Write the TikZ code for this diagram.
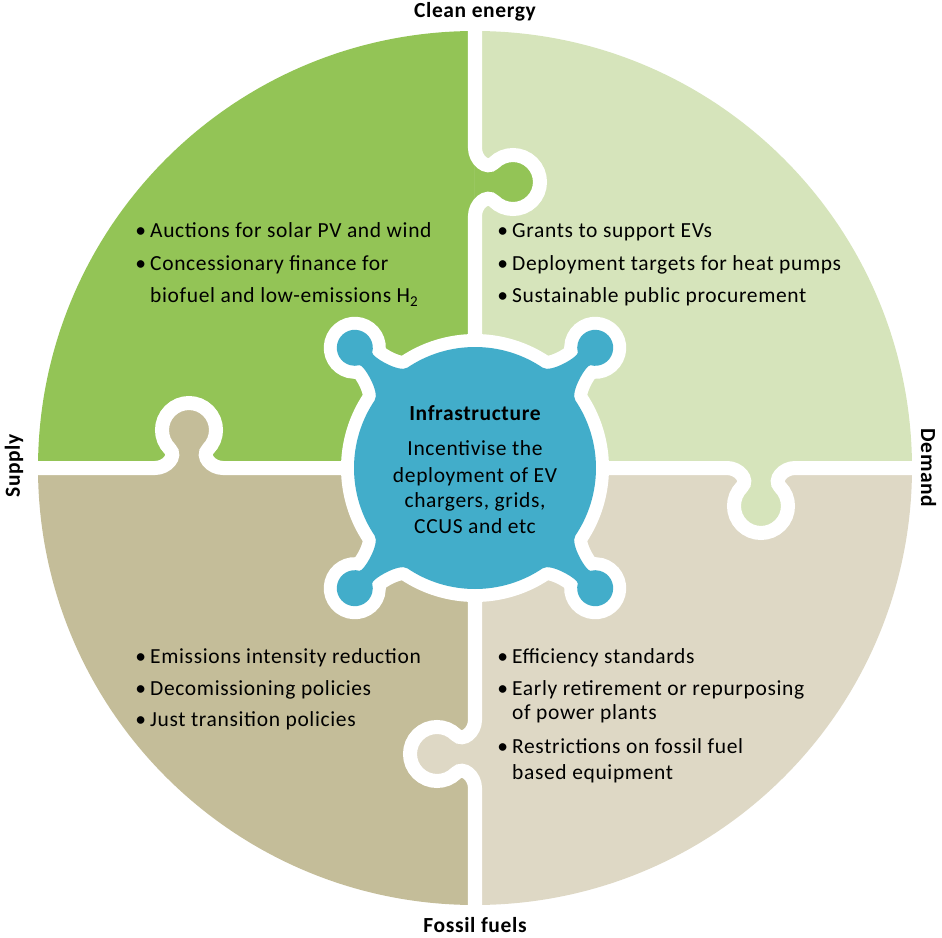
\documentclass[tikz,border=0pt]{standalone}
\usepackage{fontspec}
\setmainfont{Carlito}[LetterSpace=3]
\usetikzlibrary{positioning}

\definecolor{cleansupply}{HTML}{93C456}
\definecolor{cleandemand}{HTML}{D6E4BB}
\definecolor{fossilsupply}{HTML}{C4BD99}
\definecolor{fossildemand}{HTML}{DED8C5}
\definecolor{hubblue}{HTML}{42ADCA}

\tikzset{
  cut/.style={draw=white, line width=14pt},
  axislabel/.style={font=\fontsize{21.5}{25}\selectfont\bfseries},
  itemline/.style={anchor=base west, inner sep=0pt, font=\fontsize{21.5}{25}\selectfont},
  hubline/.style={anchor=base, inner sep=0pt, font=\fontsize{21.5}{25}\selectfont},
}
\newcommand{\bul}{\llap{\textbullet\hspace{4pt}}}

\begin{document}
\begin{tikzpicture}[x=1pt, y=1pt]
\useasboundingbox (-475,-469) rectangle (467,468);

% four quarters
\fill[cleansupply] (0,0) -- (180:437pt) arc[start angle=180, end angle=90, radius=437pt] -- cycle;
\fill[cleandemand] (0,0) -- (90:437pt) arc[start angle=90, end angle=0, radius=437pt] -- cycle;
\fill[fossildemand] (0,0) -- (0:437pt) arc[start angle=0, end angle=-90, radius=437pt] -- cycle;
\fill[fossilsupply] (0,0) -- (-90:437pt) arc[start angle=-90, end angle=-180, radius=437pt] -- cycle;

% puzzle tabs and cuts
\foreach \ang/\own in {90/cleansupply, 180/fossilsupply, 0/cleandemand, 270/fossildemand}{
  \begin{scope}[rotate=\ang, yscale=-1]
    \fill[\own] (252,0) .. controls (264,0) and (274,11.8) .. (266.9,18.9)
      arc[start angle=225, end angle=-45, radius=27pt]
      .. controls (298,11.8) and (308,0) .. (320,0) -- cycle;
    \draw[cut] (0,0) -- (252,0) .. controls (264,0) and (274,11.8) .. (266.9,18.9)
      arc[start angle=225, end angle=-45, radius=27pt]
      .. controls (298,11.8) and (308,0) .. (320,0) -- (440,0);
  \end{scope}
}

% hub
\path[fill=hubblue, preaction={draw=white, line width=26pt}]
  (-34:121pt) \foreach \a in {45,135,225,315}{
    arc[start angle=\a-79, end angle=\a-11, radius=121pt]
    .. controls (\a-6.29:121.4pt) and (\a-2.07:152.5pt) .. (\a-3.34:154.66pt)
    arc[start angle=\a-150, end angle=\a+150, radius=18pt]
    .. controls (\a+2.07:152.5pt) and (\a+6.29:121.4pt) .. (\a+11:121pt)
  } -- cycle;

% axis labels
\node[axislabel, anchor=base] (clean) at (0,450) {Clean energy};
\node[axislabel, anchor=base] (fossil) at (0,-464) {Fossil fuels};
\node[axislabel, anchor=base, rotate=90] (supply) at (-455,2) {Supply};
\node[axislabel, anchor=base, rotate=-90] (demand) at (446,0) {Demand};

% clean supply
\node[itemline] (auctions) at (-325,230) {\bul Auctions for solar PV and wind};
\node[itemline] (finance) at (-325,197) {\bul Concessionary finance for};
\node[itemline] (finance2) at (-325,165) {biofuel and low-emissions H\textsubscript{2}};

% clean demand
\node[itemline] (grants) at (37,230) {\bul Grants to support EVs};
\node[itemline] (heatpumps) at (37,197) {\bul Deployment targets for heat pumps};
\node[itemline] (procure) at (37,165) {\bul Sustainable public procurement};

% fossil supply
\node[itemline] (intensity) at (-325,-195) {\bul Emissions intensity reduction};
\node[itemline] (decom) at (-325,-227) {\bul Decomissioning policies};
\node[itemline] (just) at (-325,-258) {\bul Just transition policies};

% fossil demand
\node[itemline] (efficiency) at (37,-195) {\bul Efficiency standards};
\node[itemline] (retire) at (37,-227) {\bul Early retirement or repurposing};
\node[itemline] (retire2) at (37,-251) {of power plants};
\node[itemline] (restrict) at (37,-285) {\bul Restrictions on fossil fuel};
\node[itemline] (restrict2) at (37,-311) {based equipment};

% hub text
\node[hubline, font=\fontsize{21.5}{25}\selectfont\bfseries] (infra) at (0,48) {Infrastructure};
\node[hubline] (hub1) at (0,13) {Incentivise the};
\node[hubline] (hub2) at (0,-14) {deployment of EV};
\node[hubline] (hub3) at (0,-39) {chargers, grids,};
\node[hubline] (hub4) at (0,-65) {CCUS and etc};
\end{tikzpicture}
\end{document}
